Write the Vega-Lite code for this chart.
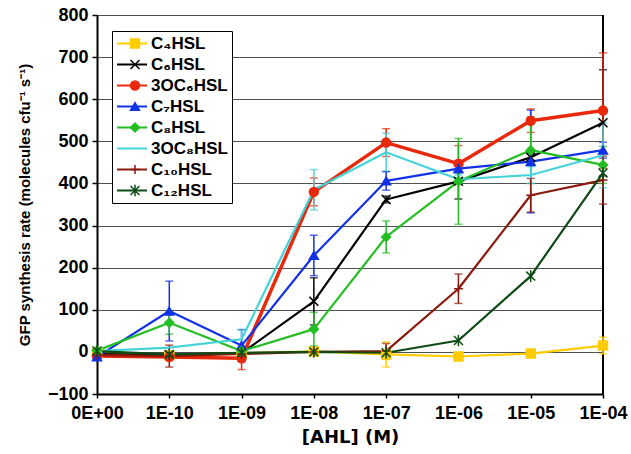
{
  "$schema": "https://vega.github.io/schema/vega-lite/v6.json",
  "width": 506,
  "height": 379,
  "autosize": "none",
  "padding": {"left": 97, "top": 15, "right": 28, "bottom": 60},
  "background": "white",
  "config": {"view": {"stroke": null}, "font": "Liberation Sans"},
  "data": {"values": [
    {"s": "C₄HSL", "x": "0E+00", "v": -3, "e": 0},
    {"s": "C₄HSL", "x": "1E-10", "v": -8, "e": 0},
    {"s": "C₄HSL", "x": "1E-09", "v": -3, "e": 0},
    {"s": "C₄HSL", "x": "1E-08", "v": 1, "e": 0},
    {"s": "C₄HSL", "x": "1E-07", "v": -6, "e": 30},
    {"s": "C₄HSL", "x": "1E-06", "v": -11, "e": 0},
    {"s": "C₄HSL", "x": "1E-05", "v": -4, "e": 0},
    {"s": "C₄HSL", "x": "1E-04", "v": 15, "e": 20},
    {"s": "C₆HSL", "x": "0E+00", "v": -5, "e": 0},
    {"s": "C₆HSL", "x": "1E-10", "v": -7, "e": 0},
    {"s": "C₆HSL", "x": "1E-09", "v": -3, "e": 0},
    {"s": "C₆HSL", "x": "1E-08", "v": 120, "e": 56},
    {"s": "C₆HSL", "x": "1E-07", "v": 362, "e": 8},
    {"s": "C₆HSL", "x": "1E-06", "v": 405, "e": 42},
    {"s": "C₆HSL", "x": "1E-05", "v": 462, "e": 10},
    {"s": "C₆HSL", "x": "1E-04", "v": 544, "e": 126},
    {"s": "3OC₆HSL", "x": "0E+00", "v": -10, "e": 5},
    {"s": "3OC₆HSL", "x": "1E-10", "v": -12, "e": 5},
    {"s": "3OC₆HSL", "x": "1E-09", "v": -15, "e": 27},
    {"s": "3OC₆HSL", "x": "1E-08", "v": 380, "e": 33},
    {"s": "3OC₆HSL", "x": "1E-07", "v": 497, "e": 33},
    {"s": "3OC₆HSL", "x": "1E-06", "v": 447, "e": 43},
    {"s": "3OC₆HSL", "x": "1E-05", "v": 549, "e": 28},
    {"s": "3OC₆HSL", "x": "1E-04", "v": 573, "e": 137},
    {"s": "C₇HSL", "x": "0E+00", "v": -12, "e": 5},
    {"s": "C₇HSL", "x": "1E-10", "v": 97, "e": 71},
    {"s": "C₇HSL", "x": "1E-09", "v": 15, "e": 38},
    {"s": "C₇HSL", "x": "1E-08", "v": 229, "e": 48},
    {"s": "C₇HSL", "x": "1E-07", "v": 406, "e": 22},
    {"s": "C₇HSL", "x": "1E-06", "v": 435, "e": 10},
    {"s": "C₇HSL", "x": "1E-05", "v": 452, "e": 122},
    {"s": "C₇HSL", "x": "1E-04", "v": 479, "e": 19},
    {"s": "C₈HSL", "x": "0E+00", "v": 3, "e": 0},
    {"s": "C₈HSL", "x": "1E-10", "v": 69, "e": 27},
    {"s": "C₈HSL", "x": "1E-09", "v": 2, "e": 0},
    {"s": "C₈HSL", "x": "1E-08", "v": 54, "e": 40},
    {"s": "C₈HSL", "x": "1E-07", "v": 273, "e": 38},
    {"s": "C₈HSL", "x": "1E-06", "v": 405, "e": 102},
    {"s": "C₈HSL", "x": "1E-05", "v": 479, "e": 79},
    {"s": "C₈HSL", "x": "1E-04", "v": 444, "e": 44},
    {"s": "3OC₈HSL", "x": "0E+00", "v": 2, "e": 0},
    {"s": "3OC₈HSL", "x": "1E-10", "v": 10, "e": 0},
    {"s": "3OC₈HSL", "x": "1E-09", "v": 30, "e": 22},
    {"s": "3OC₈HSL", "x": "1E-08", "v": 385, "e": 48},
    {"s": "3OC₈HSL", "x": "1E-07", "v": 474, "e": 45},
    {"s": "3OC₈HSL", "x": "1E-06", "v": 410, "e": 10},
    {"s": "3OC₈HSL", "x": "1E-05", "v": 420, "e": 20},
    {"s": "3OC₈HSL", "x": "1E-04", "v": 467, "e": 77},
    {"s": "C₁₀HSL", "x": "0E+00", "v": -8, "e": 0},
    {"s": "C₁₀HSL", "x": "1E-10", "v": -10, "e": 26},
    {"s": "C₁₀HSL", "x": "1E-09", "v": -5, "e": 0},
    {"s": "C₁₀HSL", "x": "1E-08", "v": 0, "e": 0},
    {"s": "C₁₀HSL", "x": "1E-07", "v": 2, "e": 18},
    {"s": "C₁₀HSL", "x": "1E-06", "v": 150, "e": 35},
    {"s": "C₁₀HSL", "x": "1E-05", "v": 372, "e": 40},
    {"s": "C₁₀HSL", "x": "1E-04", "v": 408, "e": 57},
    {"s": "C₁₂HSL", "x": "0E+00", "v": 2, "e": 0},
    {"s": "C₁₂HSL", "x": "1E-10", "v": -6, "e": 0},
    {"s": "C₁₂HSL", "x": "1E-09", "v": -2, "e": 0},
    {"s": "C₁₂HSL", "x": "1E-08", "v": 0, "e": 0},
    {"s": "C₁₂HSL", "x": "1E-07", "v": -2, "e": 0},
    {"s": "C₁₂HSL", "x": "1E-06", "v": 27, "e": 0},
    {"s": "C₁₂HSL", "x": "1E-05", "v": 180, "e": 0},
    {"s": "C₁₂HSL", "x": "1E-04", "v": 425, "e": 0}
  ]},
  "encoding": {
    "x": {
      "field": "x", "type": "ordinal",
      "sort": ["0E+00", "1E-10", "1E-09", "1E-08", "1E-07", "1E-06", "1E-05", "1E-04"],
      "scale": {"type": "point", "padding": 0, "domain": ["0E+00", "1E-10", "1E-09", "1E-08", "1E-07", "1E-06", "1E-05", "1E-04"]},
      "axis": {
        "title": "[AHL] (M)", "titleFont": "DejaVu Sans", "titleFontSize": 18, "titleFontWeight": "bold", "titleColor": "black", "titlePadding": 6,
        "labelFont": "Liberation Sans", "labelFontSize": 18, "labelFontWeight": "bold", "labelColor": "black", "labelAngle": 0, "labelPadding": 6, "labelOverlap": false,
        "domainColor": "black", "domainWidth": 2, "tickColor": "black", "tickSize": 4, "tickWidth": 1.5, "grid": false
      }
    }
  },
  "layer": [
    {
      "mark": {"type": "rule", "color": "black", "strokeWidth": 2},
      "encoding": {"x": {"datum": "1E-04"}}
    },
    {
      "transform": [{"filter": "datum.e > 0"}],
      "mark": {"type": "errorbar", "ticks": true, "size": 8, "thickness": 1.5},
      "encoding": {
        "y": {"field": "v", "type": "quantitative", "scale": {"domain": [-100, 800], "nice": false, "zero": false}, "title": "GFP synthesis rate (molecules cfu⁻¹ s⁻¹)"},
        "yError": {"field": "e"},
        "color": {"field": "s", "type": "nominal",
          "scale": {"domain": ["C₄HSL", "C₆HSL", "3OC₆HSL", "C₇HSL", "C₈HSL", "3OC₈HSL", "C₁₀HSL", "C₁₂HSL"],
                    "range": ["#FFCC00", "#000000", "#E8290B", "#1232E6", "#24BE24", "#44D4D8", "#8B1A0E", "#0E4A14"]},
          "legend": null}
      }
    },
    {
      "mark": {"type": "line", "strokeJoin": "round"},
      "encoding": {
        "y": {"field": "v", "type": "quantitative",
          "scale": {"domain": [-100, 800], "nice": false, "zero": false},
          "axis": {
            "title": "GFP synthesis rate (molecules cfu⁻¹ s⁻¹)", "titleFont": "Liberation Sans", "titleFontSize": 15, "titleFontWeight": "bold", "titleColor": "black", "titlePadding": 15,
            "labelFont": "Liberation Sans", "labelFontSize": 18, "labelFontWeight": "bold", "labelColor": "black", "labelPadding": 4,
            "values": [-100, 0, 100, 200, 300, 400, 500, 600, 700, 800],
            "grid": true, "gridColor": "#505050", "gridWidth": 1,
            "domainColor": "black", "domainWidth": 2, "tickColor": "black", "tickSize": 5, "tickWidth": 1.5
          }},
        "stroke": {"field": "s", "type": "nominal",
          "scale": {"domain": ["C₄HSL", "C₆HSL", "3OC₆HSL", "C₇HSL", "C₈HSL", "3OC₈HSL", "C₁₀HSL", "C₁₂HSL"],
                    "range": ["#FFCC00", "#000000", "#E8290B", "#1232E6", "#24BE24", "#44D4D8", "#8B1A0E", "#0E4A14"]},
          "legend": {
            "orient": "none", "legendX": 15, "legendY": 16, "title": null,
            "symbolType": "M-2,0L2,0", "symbolSize": 225, "symbolStrokeWidth": 2, "symbolOffset": 7.5,
            "labelFont": "Liberation Sans", "labelFontSize": 17, "labelFontWeight": "bold", "labelColor": "black", "labelOffset": 10.5,
            "rowPadding": 3, "padding": 4, "strokeColor": "black", "fillColor": "white"
          }},
        "strokeWidth": {"condition": {"test": "datum.s === '3OC₆HSL'", "value": 3.5}, "value": 2.2}
      }
    },
    {
      "mark": {"type": "point", "filled": true, "size": 80, "strokeWidth": 1.5, "opacity": 1},
      "encoding": {
        "y": {"field": "v", "type": "quantitative", "scale": {"domain": [-100, 800], "nice": false, "zero": false}},
        "color": {"field": "s", "type": "nominal",
          "scale": {"domain": ["C₄HSL", "C₆HSL", "3OC₆HSL", "C₇HSL", "C₈HSL", "3OC₈HSL", "C₁₀HSL", "C₁₂HSL"],
                    "range": ["#FFCC00", "#000000", "#E8290B", "#1232E6", "#24BE24", "#44D4D8", "#8B1A0E", "#0E4A14"]},
          "legend": {
            "orient": "none", "legendX": 15, "legendY": 16, "title": null,
            "symbolSize": 80, "symbolStrokeWidth": 1.5, "symbolOffset": 10.5, "symbolOpacity": 1,
            "labelFont": "Liberation Sans", "labelFontSize": 17, "labelFontWeight": "bold", "labelExpr": "''", "labelOffset": 10.5,
            "rowPadding": 3, "padding": 4
          }},
        "stroke": {"field": "s", "type": "nominal",
          "scale": {"domain": ["C₄HSL", "C₆HSL", "3OC₆HSL", "C₇HSL", "C₈HSL", "3OC₈HSL", "C₁₀HSL", "C₁₂HSL"],
                    "range": ["#FFCC00", "#000000", "#E8290B", "#1232E6", "#24BE24", "#44D4D8", "#8B1A0E", "#0E4A14"]},
          "legend": {
            "orient": "none", "legendX": 15, "legendY": 16, "title": null,
            "symbolSize": 80, "symbolStrokeWidth": 1.5, "symbolOffset": 10.5, "symbolOpacity": 1,
            "labelFont": "Liberation Sans", "labelFontSize": 17, "labelFontWeight": "bold", "labelExpr": "''", "labelOffset": 10.5,
            "rowPadding": 3, "padding": 4
          }},
        "shape": {"field": "s", "type": "nominal",
          "scale": {"domain": ["C₄HSL", "C₆HSL", "3OC₆HSL", "C₇HSL", "C₈HSL", "3OC₈HSL", "C₁₀HSL", "C₁₂HSL"],
                    "range": ["square", "M-1,-1L1,1M-1,1L1,-1", "circle", "triangle-up", "diamond", "M0,0", "M-1,0L1,0M0,-1L0,1", "M-1,-1L1,1M-1,1L1,-1M0,-1.3L0,1.3"]},
          "legend": {
            "orient": "none", "legendX": 15, "legendY": 16, "title": null,
            "symbolSize": 80, "symbolStrokeWidth": 1.5, "symbolOffset": 10.5, "symbolOpacity": 1,
            "labelFont": "Liberation Sans", "labelFontSize": 17, "labelFontWeight": "bold", "labelExpr": "''", "labelOffset": 10.5,
            "rowPadding": 3, "padding": 4
          }}
      }
    }
  ],
  "resolve": {"legend": {"color": "independent", "stroke": "independent", "shape": "independent"}}
}
